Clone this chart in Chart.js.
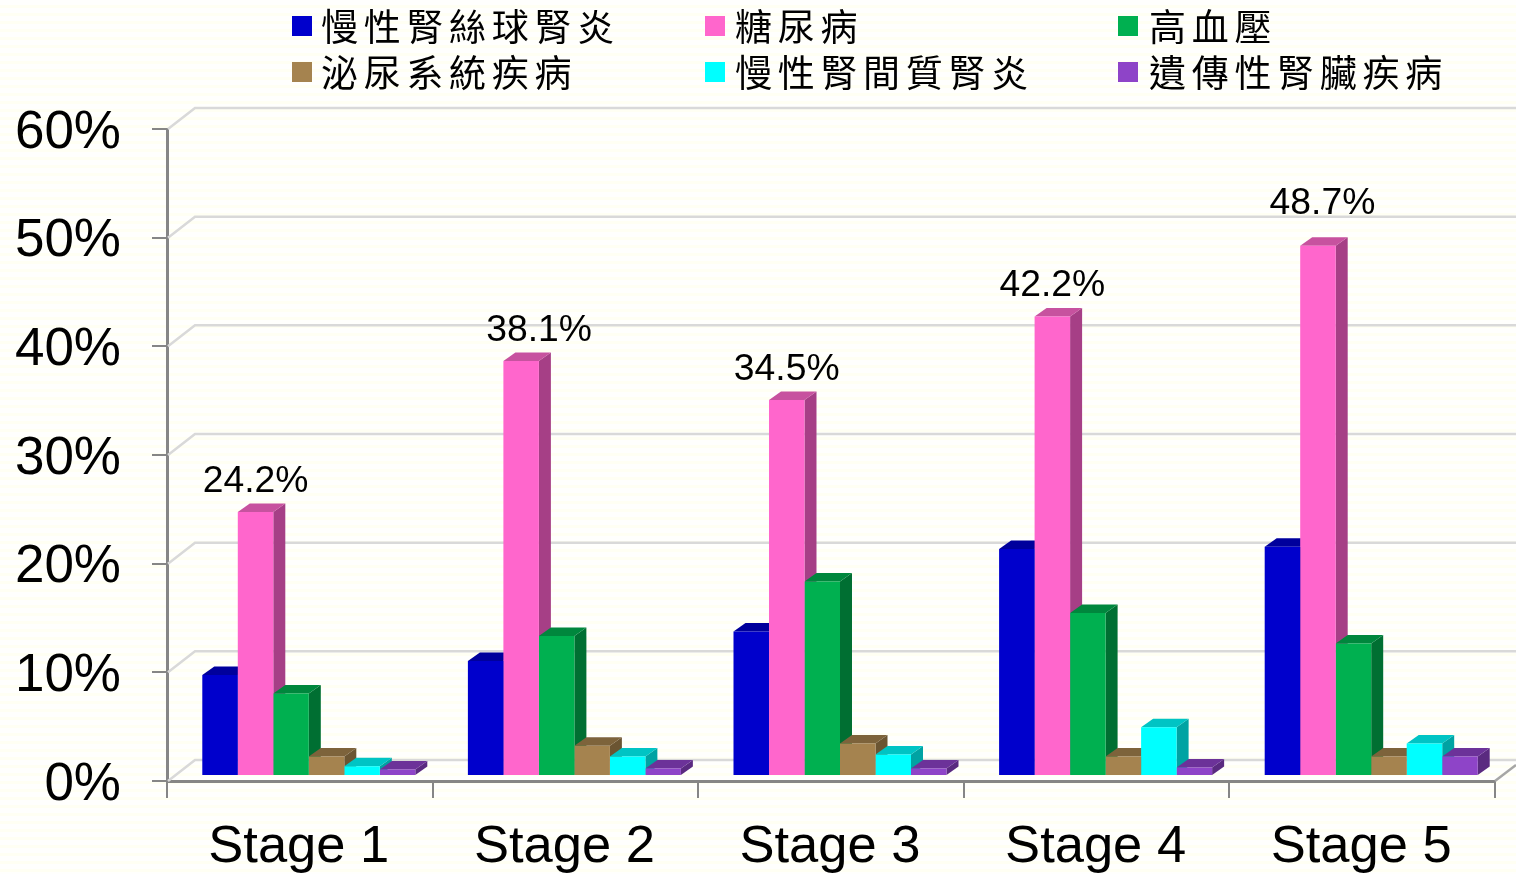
<!DOCTYPE html>
<html>
<head>
<meta charset="utf-8">
<title>Stage chart</title>
<script src="https://cdn.jsdelivr.net/npm/chart.js@4"></script>
<style>
    html, body { margin: 0; padding: 0; background: repeating-linear-gradient(#fffffd 0 5px, #fffff3 5px 8px); }
    canvas { display: block; }
</style>
</head>
<body>
<canvas id="stageChart" width="1516" height="874"></canvas>
<script>
const categories = ['Stage 1', 'Stage 2', 'Stage 3', 'Stage 4', 'Stage 5'];
const yTicks = [0, 10, 20, 30, 40, 50, 60];
const seriesNames = ['慢性腎絲球腎炎', '糖尿病', '高血壓', '泌尿系統疾病', '慢性腎間質腎炎', '遺傳性腎臟疾病'];

const glomerulonephritis = [9.2, 10.5, 13.2, 20.8, 21.0];
const diabetes = [24.2, 38.1, 34.5, 42.2, 48.7];
const hypertension = [7.5, 12.8, 17.8, 14.9, 12.1];
const urinary = [1.7, 2.7, 2.9, 1.7, 1.7];
const interstitial = [0.8, 1.7, 1.9, 4.4, 2.9];
const hereditary = [0.5, 0.6, 0.6, 0.7, 1.7];
const allSeries = [glomerulonephritis, diabetes, hypertension, urinary, interstitial, hereditary];

const frontColors = ['#0000cc', '#ff66cc', '#00b050', '#a5834f', '#00ffff', '#8e44c8'];
const topColors = ['#00009c', '#c7529f', '#00873d', '#7d633b', '#00c4c4', '#6c3299'];
const sideColors = ['#000080', '#a63f86', '#006f32', '#6b5532', '#00a3a3', '#5a2a80'];

// offsets of the fake 3d look
const barShift = 9;
const barDx = 12, barDy = 8.5;
const wallDx = 28, wallDy = 21;

const floorPlugin = {
    id: 'walls',
    beforeDatasetsDraw(chart) {
        const { ctx, chartArea, scales } = chart;
        ctx.save();
        ctx.strokeStyle = '#d9d9d9';
        ctx.lineWidth = 2.5;
        yTicks.forEach(t => {
            const y = scales.y.getPixelForValue(t);
            ctx.beginPath();
            ctx.moveTo(chartArea.left + 1, y);
            ctx.lineTo(chartArea.left + wallDx, y - wallDy);
            ctx.lineTo(chart.width, y - wallDy);
            ctx.stroke();
        });
        ctx.beginPath();
        ctx.moveTo(chartArea.right, chartArea.bottom);
        ctx.lineTo(chart.width, chartArea.bottom - 16);
        ctx.strokeStyle = '#a6a6a6';
        ctx.stroke();

        // side and top faces go first, left to right, the fronts cover them after
        ctx.translate(barShift, 0);
        allSeries.forEach((values, index) => {
            chart.getDatasetMeta(index).data.forEach(bar => {
                const p = bar.getProps(['x', 'y', 'base', 'width'], true);
                const l = p.x - p.width / 2, r = p.x + p.width / 2;
                ctx.fillStyle = sideColors[index];
                ctx.beginPath();
                ctx.moveTo(r, p.y);
                ctx.lineTo(r + barDx, p.y - barDy);
                ctx.lineTo(r + barDx, p.base - barDy);
                ctx.lineTo(r, p.base);
                ctx.closePath();
                ctx.fill();
                ctx.fillStyle = topColors[index];
                ctx.beginPath();
                ctx.moveTo(l, p.y);
                ctx.lineTo(l + barDx, p.y - barDy);
                ctx.lineTo(r + barDx, p.y - barDy);
                ctx.lineTo(r, p.y);
                ctx.closePath();
                ctx.fill();
            });
        });
        ctx.restore();
    },
    beforeDatasetDraw(chart) {
        chart.ctx.save();
        chart.ctx.translate(barShift, 0);
    },
    afterDatasetDraw(chart) {
        chart.ctx.restore();
    }
};

const pinkLabels = {
    id: 'pinkLabels',
    afterDatasetsDraw(chart) {
        const ctx = chart.ctx;
        // the source moved some of the labels by hand
        const nudgeX = [0, 18, 0, 0, 4.5];
        const nudgeY = [0, 0, 0, 0, 12];
        ctx.save();
        ctx.font = '37.3px "Liberation Sans"';
        ctx.fillStyle = '#000';
        ctx.textAlign = 'center';
        ctx.textBaseline = 'middle';
        chart.getDatasetMeta(1).data.forEach((bar, i) => {
            ctx.fillText(diabetes[i].toFixed(1) + '%', bar.x + barShift + nudgeX[i], bar.y - 30.5 - nudgeY[i]);
        });
        ctx.restore();
    }
};

const topLegend = {
    id: 'topLegend',
    afterDraw(chart) {
        const ctx = chart.ctx;
        const swatchX = [292, 705, 1118];
        const textX = [321, 735, 1149];
        const rows = [26, 72];
        ctx.save();
        ctx.font = '37px "Noto Sans CJK TC"';
        ctx.letterSpacing = '5.7px';
        ctx.textBaseline = 'middle';
        seriesNames.forEach((name, i) => {
            const col = i % 3, y = rows[Math.floor(i / 3)];
            ctx.fillStyle = frontColors[i];
            ctx.fillRect(swatchX[col], y - 10, 20, 20);
            ctx.fillStyle = '#000';
            ctx.fillText(name, textX[col], y + 1);
        });
        ctx.restore();
    }
};

new Chart(document.getElementById('stageChart'), {
    type: 'bar',
    data: {
        labels: categories,
        datasets: allSeries.map((values, i) => ({
            label: seriesNames[i],
            data: values,
            backgroundColor: frontColors[i],
            borderWidth: 0,
            yAxisID: 'yBars',
            barPercentage: 1,
            categoryPercentage: 0.802
        }))
    },
    options: {
        responsive: false,
        animation: false,
        layout: { autoPadding: false, padding: { top: 129, right: 21 } },
        plugins: { legend: { display: false }, tooltip: { enabled: false } },
        scales: {
            x: {
                afterFit: s => { s.height = 93; },
                border: { color: '#868686', width: 3 },
                grid: { drawOnChartArea: false, color: '#868686', lineWidth: 2, tickLength: 17 },
                ticks: { color: '#000', font: { family: 'Liberation Sans', size: 52.5 }, padding: 18, labelOffset: -1, maxRotation: 0 }
            },
            y: {
                min: 0,
                max: 60,
                afterFit: s => { s.width = 167; },
                border: { color: '#868686', width: 3 },
                grid: { drawOnChartArea: false, color: '#868686', lineWidth: 2, tickLength: 15 },
                ticks: { stepSize: 10, color: '#000', font: { family: 'Liberation Sans', size: 53 }, padding: 31, labelOffset: 4, callback: v => v + '%' }
            },
            // bars stand a little in front of the axis, so 0 sits 6px higher
            yBars: { display: false, min: -0.55, max: 59.45 }
        }
    },
    plugins: [floorPlugin, pinkLabels, topLegend]
});
</script>
</body>
</html>
